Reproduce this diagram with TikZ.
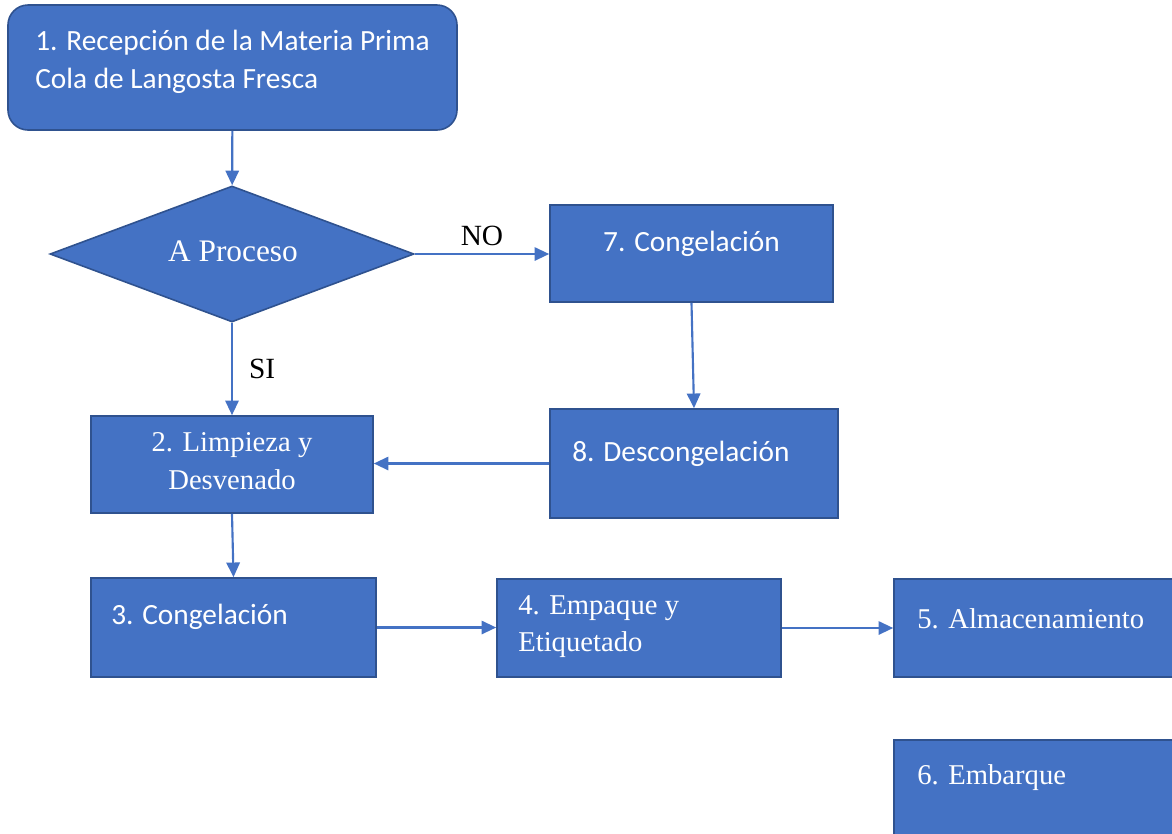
\documentclass[tikz,border=0pt]{standalone}
\usepackage{fontspec}
\setmainfont{Liberation Serif}
\newfontfamily\calib{Carlito}
\usetikzlibrary{shapes.geometric,arrows.meta}
\definecolor{boxfill}{HTML}{4472C4}
\definecolor{boxline}{HTML}{2F528F}
\begin{document}
\begin{tikzpicture}[x=0.75pt,y=-0.75pt,
  stepbox/.style={draw=boxline,fill=boxfill,line width=1.2pt,inner sep=0pt},
  flow/.style={draw=boxfill,line width=1.6pt,-{Triangle[length=11pt,width=10pt]}},
  cal/.style={text=white,font=\calib\fontsize{22}{26}\selectfont,inner sep=0pt,anchor=west},
  tms/.style={text=white,font=\fontsize{21.5}{26}\selectfont,inner sep=0pt},
  lbl/.style={text=black,font=\fontsize{22}{26}\selectfont,inner sep=0pt}]
\useasboundingbox (0,0) rectangle (1172,833);

% process boxes
\node[stepbox,rounded corners=15pt,minimum width=336.75pt,minimum height=93.75pt] (b1) at (232.5,67.5) {};
\node[stepbox,shape=diamond,minimum width=273pt,minimum height=102pt] (d) at (232,254) {};
\node[stepbox,minimum width=212.25pt,minimum height=72.75pt] (b7) at (691.5,253.5) {};
\node[stepbox,minimum width=216pt,minimum height=81.75pt] (b8) at (694,463.5) {};
\node[stepbox,minimum width=211.5pt,minimum height=72.75pt] (b2) at (232,464.5) {};
\node[stepbox,minimum width=213.75pt,minimum height=74.25pt] (b3) at (233.5,627.5) {};
\node[stepbox,minimum width=213pt,minimum height=73.5pt] (b4) at (639,628) {};
\node[stepbox,minimum width=216pt,minimum height=73.5pt] (b5) at (1038,628) {};
\node[stepbox,minimum width=216pt,minimum height=73.5pt] (b6) at (1038,789) {};

% box texts
\node[tms,font=\fontsize{23.5}{28}\selectfont] (td) at (233,251) {A Proceso};
\node[cal] (t1a) at (35,43) {1. Recepción de la Materia Prima};
\node[cal] (t1b) at (35,81) {Cola de Langosta Fresca};
\node[cal,anchor=center] (t7) at (691.5,244) {7. Congelación};
\node[cal] (t8) at (572,454) {8. Descongelación};
\node[tms] (t2a) at (232,445) {2. Limpieza y};
\node[tms] (t2b) at (232,480) {Desvenado};
\node[cal] (t3) at (111,617) {3. Congelación};
\node[tms,anchor=west] (t4a) at (518,608) {4. Empaque y};
\node[tms,anchor=west] (t4b) at (518,645) {Etiquetado};
\node[tms,anchor=west] (t5) at (917,619) {5. Almacenamiento};
\node[tms,anchor=west] (t6) at (917,778) {6. Embarque};

% connectors
\draw[flow] (b1) -- (d);
\draw[flow] (d.east) -- (b7.west |- d.east) node[lbl,midway,above=5pt] (no) {NO};
\draw[flow] (d.south) -- (b2.north) node[lbl,pos=0.5,right=12pt] (si) {SI};
\draw[flow] (b7.south) -- (b8.north);
\draw[flow] (b8.west) -- (b2.east |- b8.west);
\draw[flow] (b2.south) -- (b3.north);
\draw[flow] (b3.east) -- (b4.west |- b3.east);
\draw[flow] (b4.east) -- (b5.west |- b4.east);
\end{tikzpicture}
\end{document}
